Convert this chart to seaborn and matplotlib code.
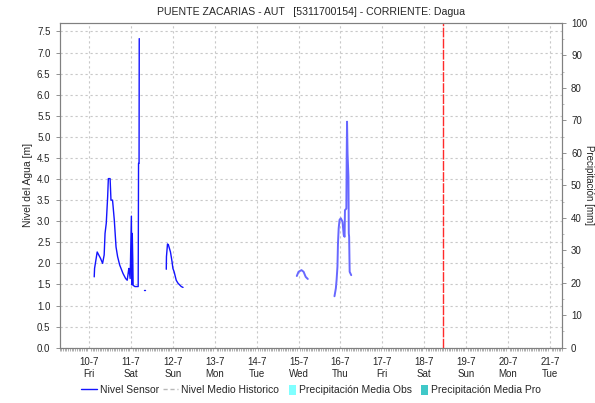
import numpy as np
import pandas as pd
import matplotlib
matplotlib.use("Agg")
import matplotlib.pyplot as plt
import matplotlib.dates as mdates
from matplotlib.lines import Line2D
from matplotlib.patches import Patch
import seaborn as sns

# ---------------- data (hours since 2015-07-10 00:00, level in m) ----------------
seg1_hours = [2.9, 3.1, 4.6, 6.5, 7.7, 8.6, 9.1, 9.8, 10.6, 11.0, 12.0, 12.5, 13.4, 14.4,
              15.4, 16.3, 17.5, 19.4, 20.9, 21.8, 22.6, 22.8, 23.5, 24.2, 24.5, 24.7,
              25.0, 25.2, 26.2, 27.4, 28.1, 28.3, 28.6, 28.7]
seg1_level = [1.68, 1.88, 2.27, 2.12, 2.00, 2.20, 2.71, 2.95, 3.58, 4.01, 4.01, 3.50, 3.50, 3.03,
              2.39, 2.16, 1.96, 1.76, 1.64, 1.60, 1.84, 1.88, 1.64, 3.12, 1.49, 2.71,
              2.08, 1.48, 1.45, 1.45, 1.45, 4.37, 4.37, 7.33]
seg2_hours = [31.2, 32.2]
seg2_level = [1.37, 1.37]
seg3_hours = [44.2, 44.3, 44.9, 45.4, 46.6, 47.5, 48.0, 48.7, 49.9, 50.9, 52.8, 53.8]
seg3_level = [1.86, 2.16, 2.46, 2.44, 2.27, 2.04, 1.88, 1.80, 1.60, 1.53, 1.45, 1.43]
seg4_hours = [119.0, 120.0, 121.7, 122.9, 124.1, 125.3]
seg4_level = [1.70, 1.80, 1.84, 1.80, 1.68, 1.63]
seg5_hours = [140.6, 141.4, 141.8, 142.3, 142.6, 143.0, 143.5, 144.2, 145.2, 145.9, 146.4,
              146.6, 147.4, 147.6, 147.8, 148.1, 148.6, 148.8, 149.0, 149.3, 150.2]
seg5_level = [1.22, 1.41, 1.60, 1.92, 2.47, 2.83, 3.03, 3.07, 2.99, 2.67, 2.63,
              3.26, 3.30, 4.53, 5.36, 4.60, 4.05, 2.71, 2.63, 1.80, 1.72]
now_hour = 202.9
start_date = "2015-07-10"
title = "PUENTE ZACARIAS - AUT   [5311700154] - CORRIENTE: Dagua"
legend_labels = ["Nivel Sensor", "Nivel Medio Historico",
                 "Precipitación Media Obs", "Precipitación Media Pro"]

# ---------------- build table ----------------
base = pd.Timestamp(start_date)
segments = [(seg1_hours, seg1_level), (seg2_hours, seg2_level), (seg3_hours, seg3_level),
            (seg4_hours, seg4_level), (seg5_hours, seg5_level)]
rows = []
for i, (h, v) in enumerate(segments):
    for hh, vv in zip(h, v):
        rows.append({"time": base + pd.to_timedelta(hh, unit="h"), "level": vv, "segment": f"s{i}"})
df = pd.DataFrame(rows)

sns.set_style("white")
plt.rcParams["font.family"] = ["Liberation Sans", "DejaVu Sans"]

fig = plt.figure(figsize=(5.95, 4.03), dpi=100)
ax = fig.add_axes([59.5 / 595, (403 - 347.7) / 403, (562 - 59.5) / 595, (347.7 - 23) / 403])

palette = {"s0": "#1414ff", "s1": "#1414ff", "s2": "#1414ff", "s3": "#6868ff", "s4": "#6868ff"}
sns.lineplot(data=df, x="time", y="level", hue="segment", units="segment", estimator=None,
             palette=palette, legend=False, linewidth=1.0, ax=ax, sort=False)
for line in ax.lines:
    if line.get_color() == "#6868ff":
        line.set_linewidth(1.4)

ax.axvline(base + pd.to_timedelta(now_hour, unit="h"), color="#ff2a2a", lw=1.0,
           linestyle=(0, (7, 1)))

ax.set_xlim(base + pd.to_timedelta(-17, unit="h"), base + pd.to_timedelta(271, unit="h"))
ax.set_ylim(0, 7.7)
ax.set_yticks(np.arange(0, 7.51, 0.5))
ax.set_yticklabels([f"{v:.1f}" for v in np.arange(0, 7.51, 0.5)])

ax.xaxis.set_major_locator(mdates.DayLocator())
ax.xaxis.set_major_formatter(
    matplotlib.ticker.FuncFormatter(lambda x, p: (lambda d: f"{d.day}-{d.month}\n{d.strftime('%a')}")(mdates.num2date(x))))
ax.xaxis.set_minor_locator(mdates.HourLocator())
ax.tick_params(axis="x", which="major", length=3, width=0.6, color="#808080", labelsize=7, pad=4)
ax.tick_params(axis="x", which="minor", length=2, width=0.5, color="#909090", bottom=True)
ax.tick_params(axis="y", which="major", length=3, width=0.6, color="#808080", labelsize=7, left=True)
for lab in ax.get_xticklabels():
    lab.set_multialignment("center")

ax.grid(True, which="major", axis="both", color="#c8c8c8", linestyle=(0, (2, 2.5)), lw=0.8)
for s in ax.spines.values():
    s.set_color("#808080")
    s.set_linewidth(0.8)

ax.set_xlabel("")
ax.set_ylabel("Nivel del Agua [m]", fontsize=7.5, labelpad=3)
ax.set_title(title, fontsize=7.6, pad=6)

ax2 = ax.twinx()
ax2.set_ylim(0, 100)
ax2.set_yticks(np.arange(0, 101, 10))
ax2.set_yticks(np.arange(5, 100, 10), minor=True)
ax2.tick_params(axis="y", which="major", length=3, width=0.6, color="#808080", labelsize=7, right=True)
ax2.tick_params(axis="y", which="minor", length=1.5, width=0.5, color="#a0a0a0", right=True)
ax2.set_ylabel("Precipitación [mm]", fontsize=7, rotation=270, va="center")
ax2.yaxis.set_label_coords((589 - 59.5) / 502.5, 0.5)
for s in ax2.spines.values():
    s.set_color("#808080")
    s.set_linewidth(0.8)
ax2.grid(False)

# legend: one small legend per entry, placed like the reference
handles = [Line2D([], [], color="#1414ff", lw=1.0),
           Line2D([], [], color="#b8b8b8", lw=1.0, linestyle=(0, (3, 2))),
           Patch(facecolor="#80ffff", edgecolor="none"),
           Patch(facecolor="#40c8c8", edgecolor="none")]
leg_x = [81, 163, 289, 421]
leg_hl = [1.55, 1.45, 0.65, 0.65]
legends = []
for h, lab, xpx, hl in zip(handles, legend_labels, leg_x, leg_hl):
    lg = fig.legend([h], [lab], loc="center left", bbox_to_anchor=(xpx / 595, 1 - 390 / 403),
                    frameon=False, fontsize=7.5, handlelength=hl, handleheight=1.2,
                    handletextpad=0.3, borderpad=0, borderaxespad=0)
    legends.append(lg)

fig.savefig("out.png", dpi=100)
